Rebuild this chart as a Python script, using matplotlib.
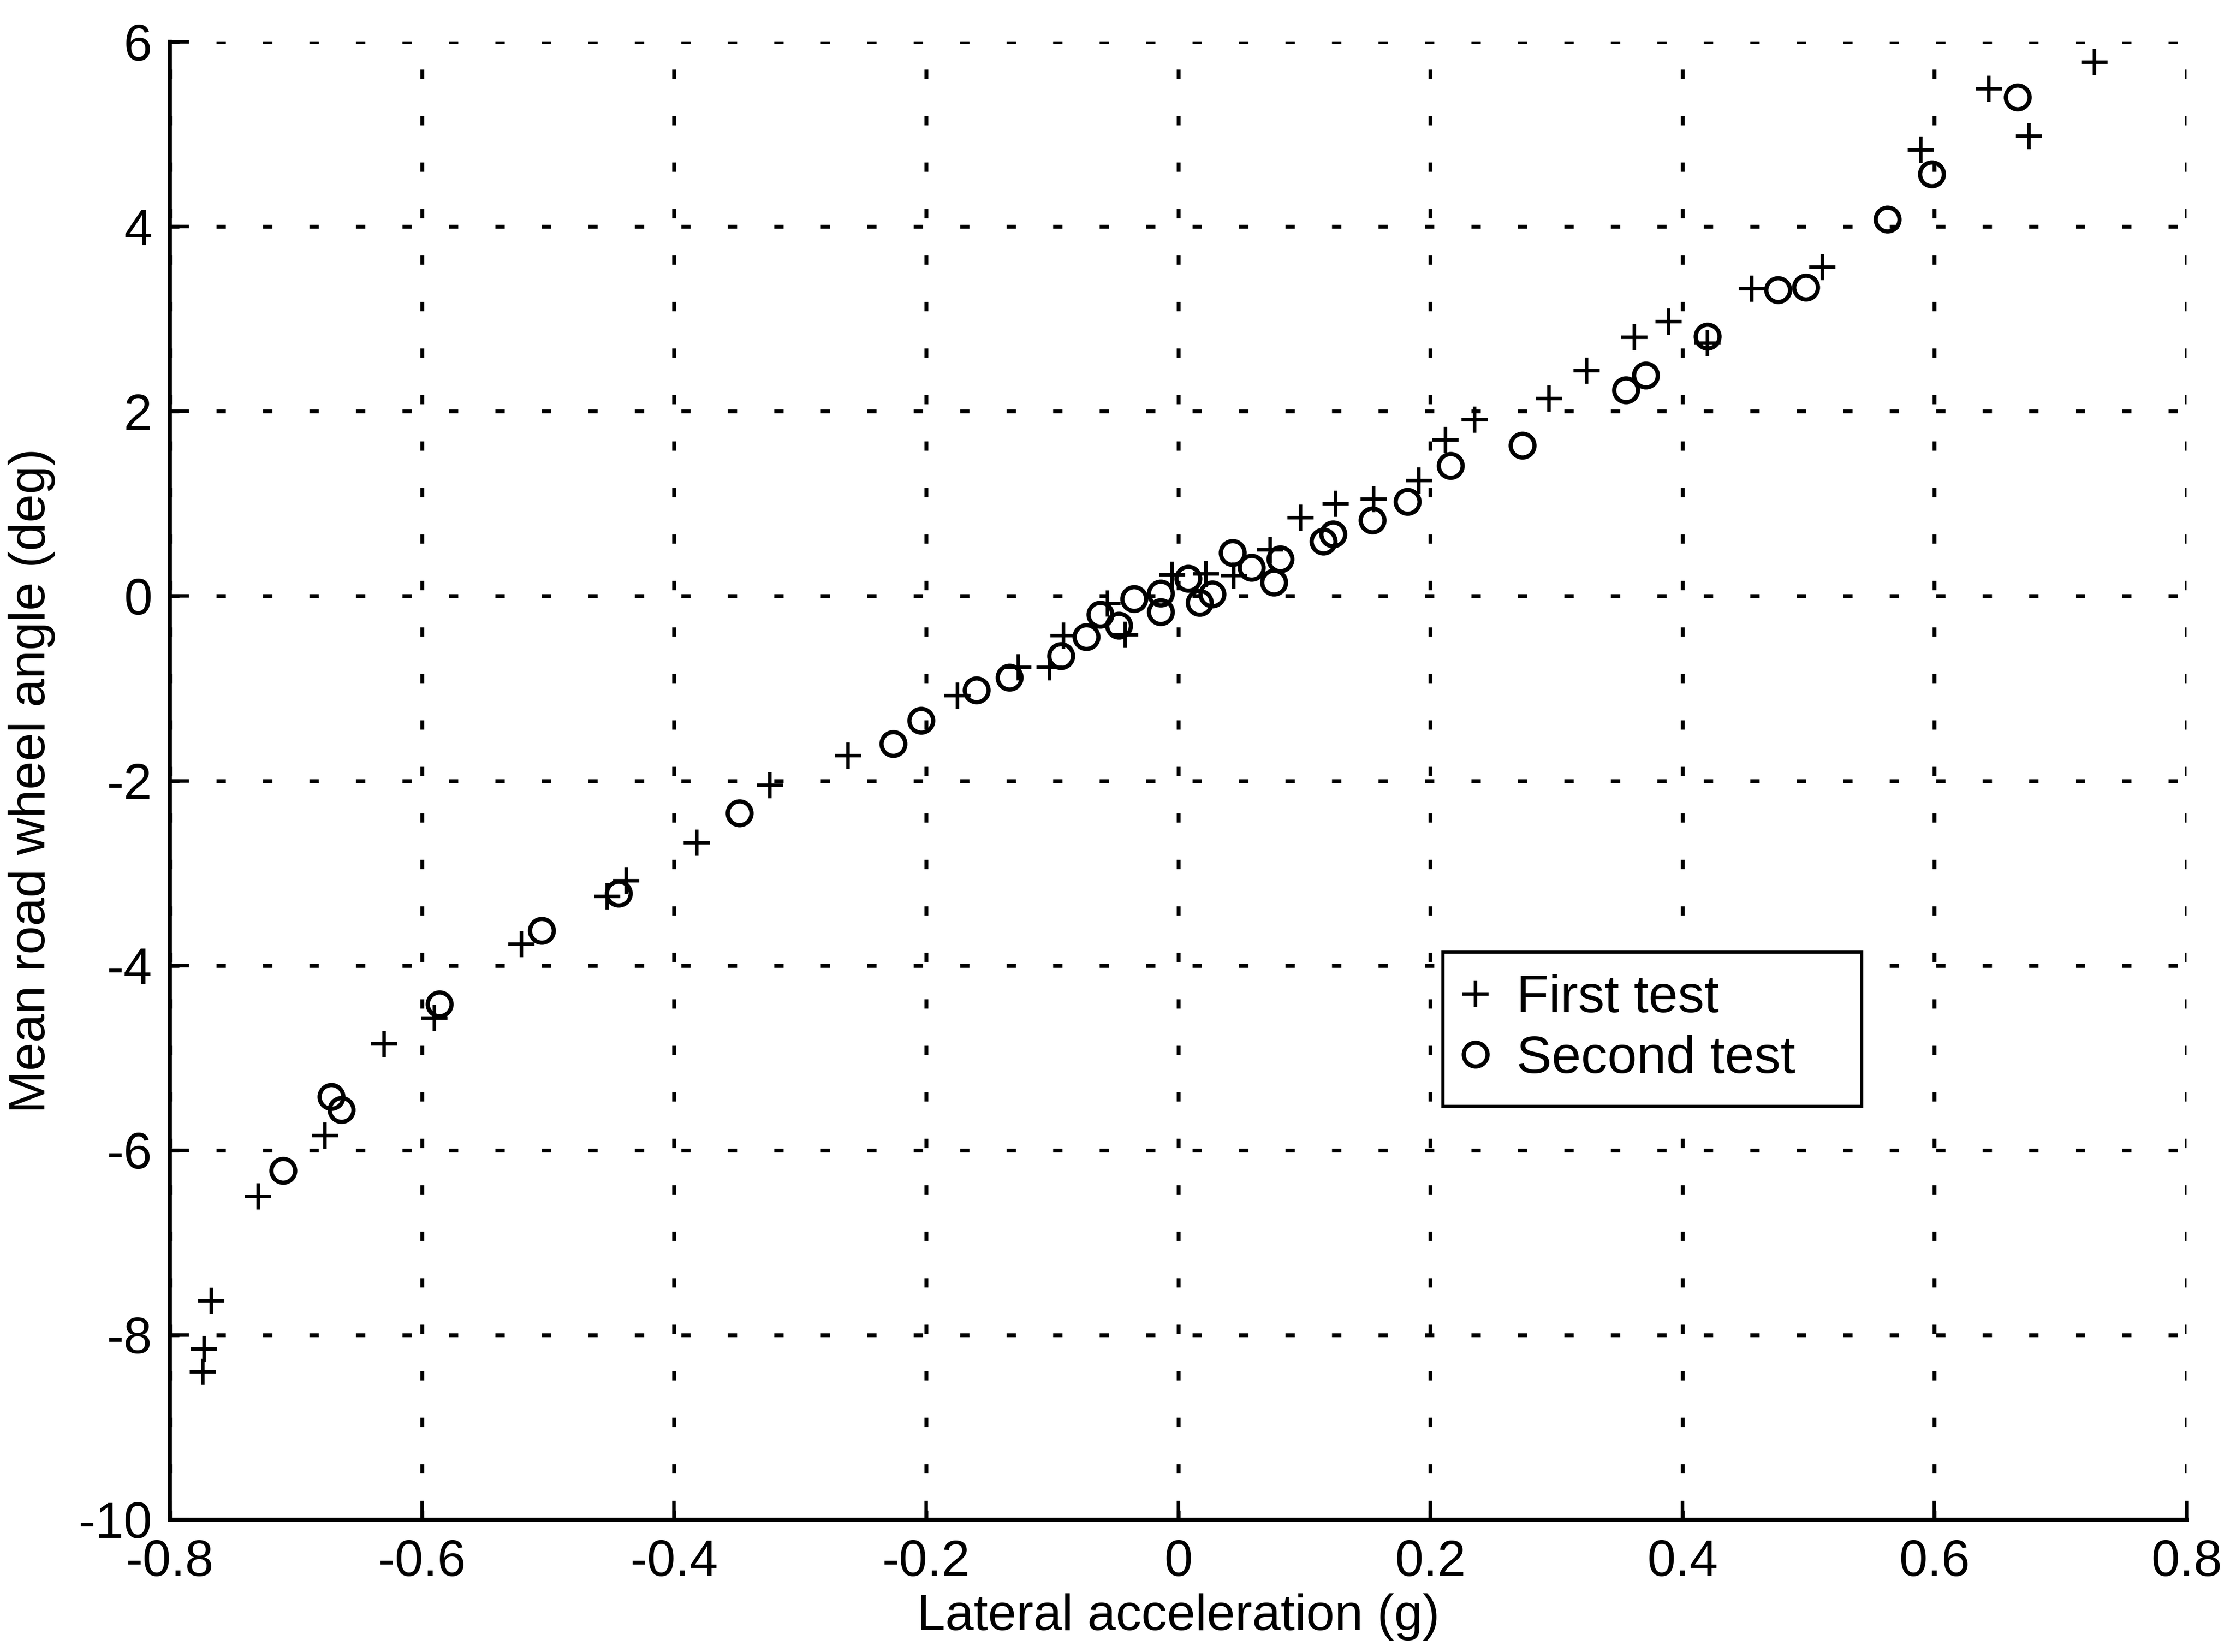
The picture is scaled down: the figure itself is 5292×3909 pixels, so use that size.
import matplotlib
matplotlib.use("Agg")
import matplotlib.pyplot as plt

# First test: lateral acceleration (g) vs mean road wheel angle (deg)
first_x = [0.727, 0.643, 0.675, 0.589, 0.511, 0.455, 0.389, 0.362, 0.420, 0.324,
           0.294, 0.235, 0.212, 0.191, 0.155, 0.125, 0.097, 0.073, 0.044, 0.022,
           -0.005, -0.042, -0.056, -0.091, -0.102, -0.127, -0.175, -0.262, -0.324,
           -0.382, -0.438, -0.453, -0.521, -0.590, -0.630, -0.677, -0.730, -0.767,
           -0.773, -0.774]
first_y = [5.78, 5.49, 4.98, 4.83, 3.56, 3.33, 2.97, 2.80, 2.74, 2.44,
           2.14, 1.91, 1.69, 1.25, 1.05, 1.00, 0.85, 0.50, 0.22, 0.24,
           0.23, -0.42, -0.08, -0.43, -0.77, -0.77, -1.08, -1.73, -2.05,
           -2.67, -3.08, -3.25, -3.77, -4.57, -4.85, -5.84, -6.50, -7.63,
           -8.15, -8.40]

# Second test
second_x = [0.666, 0.598, 0.5625, 0.498, 0.476, 0.420, 0.371, 0.355, 0.273, 0.216,
            0.182, 0.154, 0.123, 0.115, 0.081, 0.076, 0.058, 0.043, 0.027, 0.017,
            0.008, -0.014, -0.014, -0.035, -0.047, -0.062, -0.073, -0.093, -0.134,
            -0.160, -0.204, -0.226, -0.348, -0.444, -0.505, -0.586, -0.672, -0.664,
            -0.710]
second_y = [5.40, 4.57, 4.08, 3.34, 3.315, 2.81, 2.39, 2.23, 1.63, 1.41,
            1.02, 0.82, 0.67, 0.59, 0.40, 0.15, 0.31, 0.47, 0.02, -0.07,
            0.19, 0.03, -0.17, -0.03, -0.32, -0.20, -0.44, -0.65, -0.88,
            -1.02, -1.35, -1.60, -2.35, -3.22, -3.62, -4.42, -5.42, -5.56,
            -6.22]

x_ticks = [-0.8, -0.6, -0.4, -0.2, 0.0, 0.2, 0.4, 0.6, 0.8]
x_tick_labels = ["-0.8", "-0.6", "-0.4", "-0.2", "0", "0.2", "0.4", "0.6", "0.8"]
y_ticks = [-10, -8, -6, -4, -2, 0, 2, 4, 6]
y_tick_labels = ["-10", "-8", "-6", "-4", "-2", "0", "2", "4", "6"]

plt.rcParams["font.family"] = ["Liberation Sans", "DejaVu Sans"]
plt.rcParams["axes.unicode_minus"] = False

W, H, DPI = 5292, 3909, 300
fig = plt.figure(figsize=(W / DPI, H / DPI), dpi=DPI, facecolor="white")
left, right, top, bottom = 402, 5175, 99, 3596
ax = fig.add_axes([left / W, 1 - bottom / H, (right - left) / W, (bottom - top) / H])

ax.plot(first_x, first_y, linestyle="none", marker="+", markersize=15,
        markeredgewidth=2.0, color="black", label="First test", zorder=3)
ax.plot(second_x, second_y, linestyle="none", marker="o", markersize=13.5,
        markeredgewidth=2.4, markerfacecolor="none", markeredgecolor="black",
        label="Second test", zorder=3)

ax.set_xlim(-0.8, 0.8)
ax.set_ylim(-10, 6)
ax.set_xticks(x_ticks)
ax.set_xticklabels(x_tick_labels)
ax.set_yticks(y_ticks)
ax.set_yticklabels(y_tick_labels)

ax.grid(True, color="black", linewidth=2.2, linestyle=(0, (2.4, 9.6)))
ax.set_axisbelow(True)
for side in ("top", "right"):
    ax.spines[side].set_visible(False)
for side in ("left", "bottom"):
    ax.spines[side].set_linewidth(2.3)
    ax.spines[side].set_color("black")

ax.tick_params(direction="in", length=10.8, width=2.0, labelsize=29,
               top=False, right=False, colors="black")
ax.tick_params(axis="x", pad=11)
ax.tick_params(axis="y", pad=10)

ax.set_xlabel("Lateral acceleration (g)", fontsize=29, labelpad=4)
ax.set_ylabel("Mean road wheel angle (deg)", fontsize=29, labelpad=13)

# Legend box placed in the lower right part of the plot area
lx0 = (3415 - left) / (right - left)
lx1 = (4406 - left) / (right - left)
ly_top = (bottom - 2253) / (bottom - top)
ly_bot = (bottom - 2621) / (bottom - top)
leg = ax.legend(loc="upper left", bbox_to_anchor=(lx0, ly_bot, lx1 - lx0, ly_top - ly_bot),
                mode="expand", borderaxespad=0, fontsize=30, numpoints=1,
                handlelength=0.4, handletextpad=0.57, borderpad=0.42,
                labelspacing=0.22, fancybox=False, framealpha=1, edgecolor="black")
leg.get_frame().set_linewidth(1.8)

fig.savefig("out.png", dpi=DPI, facecolor="white")
